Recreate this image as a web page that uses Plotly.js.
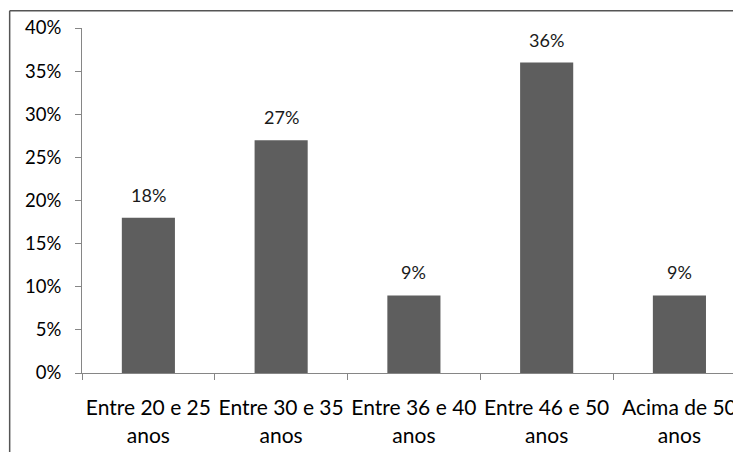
<!DOCTYPE html>
<html><head><meta charset="utf-8">
<script src="https://cdn.plot.ly/plotly-3.0.1.min.js"></script>
<style>html,body{margin:0;padding:0;background:#fff}#chart{width:733px;height:452px}</style>
</head><body><div id="chart"></div>
<script>
const categories = ["Entre 20 e 25<br>anos", "Entre 30 e 35<br>anos", "Entre 36 e 40<br>anos", "Entre 46 e 50<br>anos", "Acima de 50<br>anos"];
const values = [18, 27, 9, 36, 9];
const labels = ["18%", "27%", "9%", "36%", "9%"];
const yTicks = [0, 5, 10, 15, 20, 25, 30, 35, 40];

(function () {
const W = 733, H = 452;
const plotLeft = 82.3, plotTop = 28.3, plotBottom = 373.3;
const catW = 132.7;
const xmax = -0.5 + (W - plotLeft) / catW;
const fx = px => (px - plotLeft) / (W - plotLeft);
const fy = py => (plotBottom - py) / (plotBottom - plotTop);
const FONT = "Lato, 'Liberation Sans', sans-serif";

const trace = {
  type: "bar", x: categories, y: values,
  marker: {color: "#5e5e5e", line: {width: 0}},
  width: 0.4, hoverinfo: "none"
};
const annotations = categories.map((c, i) => ({
  x: c, y: values[i], xref: "x", yref: "y", text: labels[i],
  showarrow: false, yanchor: "bottom", yshift: 10,
  font: {family: FONT, size: 18, color: "#1a1a1a"}
}));
const layout = {
  width: W, height: H,
  margin: {l: plotLeft, r: 0, t: plotTop, b: H - plotBottom, pad: 0},
  paper_bgcolor: "#fff", plot_bgcolor: "#fff",
  showlegend: false,
  xaxis: {
    type: "category", range: [-0.5, xmax], fixedrange: true,
    showline: true, linecolor: "#868686", linewidth: 1,
    ticks: "outside", tickson: "boundaries", ticklen: 6, tickcolor: "#868686",
    showgrid: false, zeroline: false, tickangle: 0,
    tickfont: {family: FONT, size: 21, color: "#000"},
    ticklabelstandoff: 16
  },
  yaxis: {
    range: [0, 40], tickmode: "array", tickvals: yTicks,
    ticktext: yTicks.map(v => v + "%"),
    showline: true, linecolor: "#868686", linewidth: 1,
    ticks: "outside", ticklen: 6, tickcolor: "#868686",
    showgrid: false, zeroline: false,
    tickfont: {family: FONT, size: 18.5, color: "#000"},
    ticklabelstandoff: 10
  },
  annotations: annotations,
  shapes: [
    {type: "line", xref: "paper", yref: "paper", x0: fx(10), x1: fx(W + 5), y0: fy(11), y1: fy(11), line: {color: "#555", width: 1.5}},
    {type: "line", xref: "paper", yref: "paper", x0: fx(10), x1: fx(10), y0: fy(11), y1: fy(H + 5), line: {color: "#555", width: 1.5}}
  ]
};
Plotly.newPlot("chart", [trace], layout, {staticPlot: true, displayModeBar: false});
})();
</script></body></html>
